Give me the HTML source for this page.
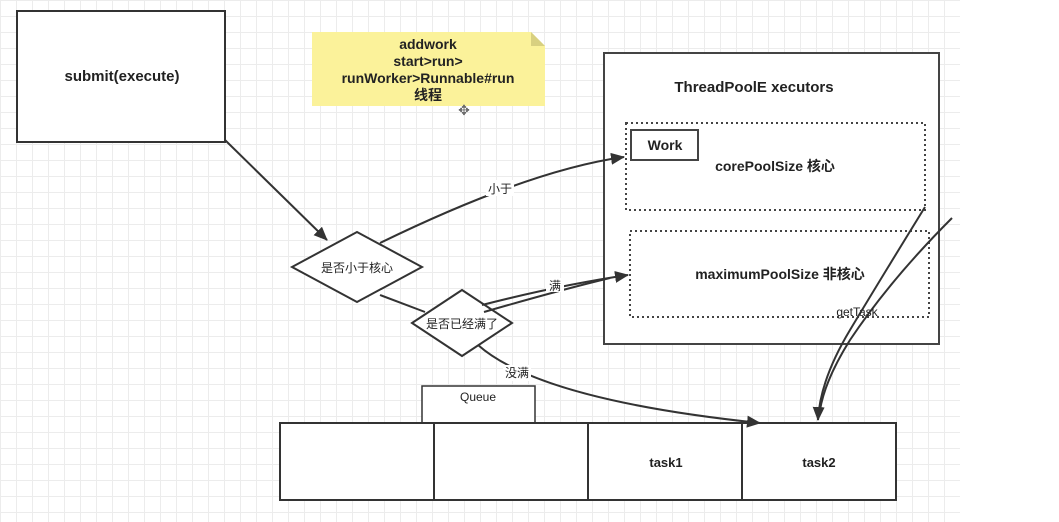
<!DOCTYPE html>
<html><head><meta charset="utf-8"><style>
body{margin:0;width:1059px;height:522px;overflow:hidden;background:#fff;
background-image:linear-gradient(#ececec 1px,transparent 1px),linear-gradient(90deg,#ececec 1px,transparent 1px);background-size:16px 16px;}
</style></head><body>
<svg width="1059" height="522" style="position:absolute;left:0;top:0" font-family="Liberation Sans, Noto Sans CJK SC, sans-serif">
<defs><marker id="b" markerWidth="14" markerHeight="14" refX="13" refY="7" orient="auto" markerUnits="userSpaceOnUse"><path d="M0,1 L14,7 L0,13 z" fill="#333"/></marker></defs>
<rect x="960" y="0" width="99" height="522" fill="#fff"/>
<rect x="17" y="11" width="208" height="131" fill="#fff" stroke="#333" stroke-width="2"/>
<text x="122" y="81" text-anchor="middle" font-size="15" font-weight="bold" fill="#222">submit(execute)</text>
<path d="M312,32 H531 L545,46 V106 H312 Z" fill="#fbf29a"/>
<path d="M531,32 L545,46 H531 Z" fill="#d8d080"/>
<g font-size="14" font-weight="bold" fill="#222" text-anchor="middle">
<text x="428" y="49">addwork</text><text x="428" y="66">start&gt;run&gt;</text><text x="428" y="83">runWorker&gt;Runnable#run</text><text x="428" y="100">线程</text></g>
<rect x="604" y="53" width="335" height="291" fill="#fff" stroke="#444" stroke-width="2"/>
<text x="754" y="92" text-anchor="middle" font-size="15" font-weight="bold" fill="#222">ThreadPoolE xecutors</text>
<rect x="626" y="123" width="299" height="87" fill="none" stroke="#444" stroke-width="2" stroke-dasharray="2,3"/>
<rect x="631" y="130" width="67" height="30" fill="#fff" stroke="#444" stroke-width="2"/>
<text x="665" y="150" text-anchor="middle" font-size="14" font-weight="bold" fill="#222">Work</text>
<text x="775" y="171" text-anchor="middle" font-size="14" font-weight="bold" fill="#222">corePoolSize 核心</text>
<rect x="630" y="231" width="299" height="86" fill="none" stroke="#444" stroke-width="2" stroke-dasharray="2,3"/>
<text x="780" y="279" text-anchor="middle" font-size="14" font-weight="bold" fill="#222">maximumPoolSize 非核心</text>
<polygon points="292,267 357,232 422,267 357,302" fill="#fff" stroke="#333" stroke-width="2"/>
<text x="357" y="272" text-anchor="middle" font-size="12" fill="#222">是否小于核心</text>
<line x1="380" y1="295" x2="425" y2="312" stroke="#333" stroke-width="2"/>
<polygon points="412,323 462,290 512,323 462,356" fill="#fff" stroke="#333" stroke-width="2"/>
<text x="462" y="328" text-anchor="middle" font-size="12" fill="#222">是否已经满了</text>
<rect x="422" y="386" width="113" height="37" fill="#fff" stroke="#333" stroke-width="1.5"/>
<text x="478" y="401" text-anchor="middle" font-size="12" fill="#222">Queue</text>
<rect x="280" y="423" width="616" height="77" fill="#fff" stroke="#333" stroke-width="2"/>
<line x1="434" y1="423" x2="434" y2="500" stroke="#333" stroke-width="2"/>
<line x1="588" y1="423" x2="588" y2="500" stroke="#333" stroke-width="2"/>
<line x1="742" y1="423" x2="742" y2="500" stroke="#333" stroke-width="2"/>
<text x="666" y="467" text-anchor="middle" font-size="13" font-weight="bold" fill="#222">task1</text>
<text x="819" y="467" text-anchor="middle" font-size="13" font-weight="bold" fill="#222">task2</text>
<g fill="none" stroke="#333" stroke-width="2">
<line x1="225" y1="140" x2="327" y2="240" marker-end="url(#b)"/>
<path d="M380,243 Q530,170 624,157" marker-end="url(#b)"/>
<path d="M482,305 Q560,285 628,275" marker-end="url(#b)"/>
<path d="M484,312 Q560,290 610,278"/>
<path d="M478,345 Q540,400 760,423" marker-end="url(#b)"/>
<path d="M925,207 Q880,280 850,330 Q820,380 818,420" marker-end="url(#b)"/>
<path d="M952,218 Q890,280 850,340 Q825,380 820,410"/>
</g>
<rect x="486" y="180" width="28" height="16" fill="#fff"/>
<text x="500" y="193" text-anchor="middle" font-size="12" fill="#222">小于</text>
<rect x="546" y="278" width="18" height="14" fill="#fff"/>
<text x="555" y="290" text-anchor="middle" font-size="12" fill="#222">满</text>
<rect x="503" y="365" width="28" height="16" fill="#fff"/>
<text x="517" y="377" text-anchor="middle" font-size="12" fill="#222">没满</text>
<text x="857" y="316" text-anchor="middle" font-size="12" fill="#222">getTask</text>
<text x="464" y="115" text-anchor="middle" font-size="14" fill="#666">✥</text>
</svg>
</body></html>
